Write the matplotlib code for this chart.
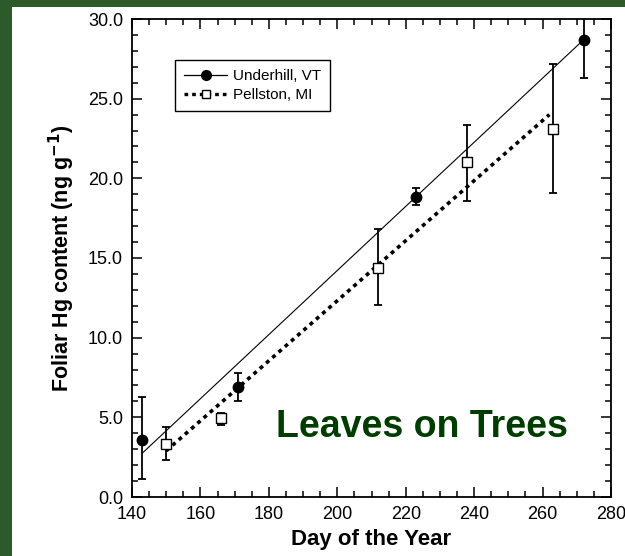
import matplotlib
matplotlib.use('Agg')
import matplotlib.pyplot as plt
from matplotlib.patches import Rectangle
from matplotlib.ticker import MultipleLocator, FormatStrFormatter

plt.rcParams['font.family'] = ['Liberation Sans', 'DejaVu Sans']

# Underhill, VT: day of year, foliar Hg (ng/g), error bar limits
uh_days = [143, 171, 223, 272]
uh_hg = [3.6, 6.9, 18.85, 28.7]
uh_low = [1.1, 6.05, 18.3, 26.3]
uh_high = [6.25, 7.8, 19.4, 30.5]

# Pellston, MI
pe_days = [150, 166, 212, 238, 263]
pe_hg = [3.35, 4.93, 14.4, 21.05, 23.1]
pe_low = [2.3, 4.55, 12.05, 18.6, 19.05]
pe_high = [4.4, 5.3, 16.8, 23.35, 27.2]

# regression line end points
uh_fit_days = [143, 272]
uh_fit_hg = [2.75, 28.7]
pe_fit_days = [150, 262]
pe_fit_hg = [2.9, 24.0]

green_bg = '#2c5a2a'
text_green = '#003b00'

fig = plt.figure(figsize=(6.25, 5.56), dpi=100, facecolor=green_bg)
# white panel behind the chart
fig.patches.append(Rectangle((12 / 625, 0), 1 - 12 / 625, 1 - 7 / 556,
                             transform=fig.transFigure, facecolor='white',
                             edgecolor='none', zorder=-10))

ax = fig.add_axes([132 / 625, 59 / 556, 479 / 625, 478 / 556])

def err(vals, lo, hi):
    return [[v - l for v, l in zip(vals, lo)], [h - v for v, h in zip(vals, hi)]]

ax.plot(uh_fit_days, uh_fit_hg, color='black', lw=0.8, zorder=2)
ax.plot(pe_fit_days, pe_fit_hg, color='black', lw=2.6,
        linestyle=(0, (1.1, 1.2)), zorder=2)

ax.errorbar(uh_days, uh_hg, yerr=err(uh_hg, uh_low, uh_high), fmt='none',
            ecolor='black', elinewidth=1.3, capsize=2.9, capthick=1.3, zorder=3)
ax.errorbar(pe_days, pe_hg, yerr=err(pe_hg, pe_low, pe_high), fmt='none',
            ecolor='black', elinewidth=1.3, capsize=2.9, capthick=1.3, zorder=3)
ax.plot(uh_days, uh_hg, 'o', color='black', markersize=7.5, zorder=4)
ax.plot(pe_days, pe_hg, 's', markerfacecolor='white', markeredgecolor='black',
        markeredgewidth=1.0, markersize=6.5, zorder=4)

# legend handles
h1, = ax.plot([], [], '-o', color='black', lw=0.9, markersize=7)
h2, = ax.plot([], [], marker='s', color='black', lw=2.4, linestyle=(0, (1.1, 1.2)),
              markerfacecolor='white', markersize=6)
leg = ax.legend([h1, h2], ['Underhill, VT', 'Pellston, MI'], loc='upper left',
                bbox_to_anchor=(0.09, 0.914), borderaxespad=0, fontsize=11,
                frameon=True, fancybox=False, edgecolor='black', framealpha=1,
                handlelength=2.8, handletextpad=0.4, borderpad=0.6,
                labelspacing=0.3)
leg.get_frame().set_linewidth(1.0)

ax.text(224.8, 3.77, 'Leaves on Trees', fontsize=27, fontweight='bold',
        color=text_green, ha='center', va='baseline')

ax.set_xlim(140, 280)
ax.set_ylim(0, 30)
ax.xaxis.set_major_locator(MultipleLocator(20))
ax.xaxis.set_minor_locator(MultipleLocator(5))
ax.yaxis.set_major_locator(MultipleLocator(5))
ax.yaxis.set_minor_locator(MultipleLocator(1))
ax.yaxis.set_major_formatter(FormatStrFormatter('%.1f'))
ax.tick_params(which='both', direction='in', top=True, right=True,
               width=1.1, labelsize=13, colors='black')
ax.tick_params(which='major', length=7.2, pad=6.5)
ax.tick_params(which='minor', length=4)
for sp in ax.spines.values():
    sp.set_linewidth(1.3)

ax.set_xlabel('Day of the Year', fontsize=16, fontweight='bold', labelpad=4)
ax.set_ylabel('Foliar Hg content (ng g$^{\\mathbf{-1}}$)', fontsize=15.5,
              fontweight='bold', labelpad=8)

fig.savefig('out.png', dpi=100, facecolor=green_bg)
